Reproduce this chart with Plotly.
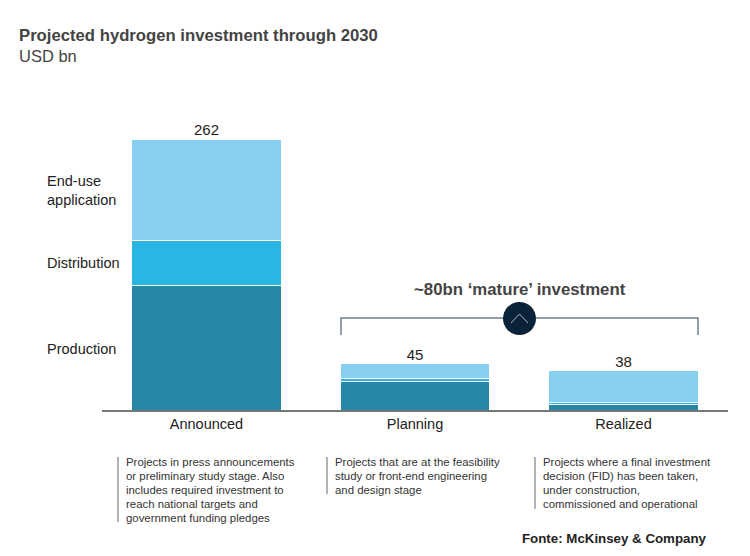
import plotly.graph_objects as go

# Projected hydrogen investment, USD bn
categories = ['Announced', 'Planning', 'Realized']
production = [120, 28, 5]
distribution = [44, 2, 2]
end_use = [98, 15, 31]
totals = [262, 45, 38]

descriptions = [
    ['Projects in press announcements', 'or preliminary study stage. Also',
     'includes required investment to', 'reach national targets and',
     'government funding pledges'],
    ['Projects that are at the feasibility', 'study or front-end engineering',
     'and design stage'],
    ['Projects where a final investment', 'decision (FID) has been taken,',
     'under construction,', 'commissioned and operational'],
]
desc_lines = [(118, 457, 522), (327, 457, 494), (535, 457, 509)]
segment_labels = [('End-use<br>application', 190), ('Distribution', 263), ('Production', 349)]

FONT = 'Liberation Sans'


# 참조 이미지 픽셀 좌표 -> paper 좌표 (플롯 영역 102~728, 100~410 기준)
def px(x):
    return (x - 102) / 626


def py(y):
    return (410 - y) / 310


fig = go.Figure()

for name, values, color in [('Production', production, '#2787A6'),
                            ('Distribution', distribution, '#29B6E3'),
                            ('End-use application', end_use, '#87D0EF')]:
    fig.add_trace(go.Bar(x=categories, y=values, name=name, width=0.715,
                         marker=dict(color=color, line=dict(color='white', width=1))))

# 합계 라벨
fig.add_trace(go.Scatter(x=categories, y=totals, mode='text',
                         text=[str(t) for t in totals], textposition='top center',
                         textfont=dict(size=15, color='#222222', family=FONT)))

shapes = [
    # 브래킷
    dict(type='path', xref='paper', yref='paper',
         path=f'M {px(341)} {py(335)} L {px(341)} {py(318)} L {px(698)} {py(318)} L {px(698)} {py(335)}',
         line=dict(color='#6F7F8A', width=1.5)),
    dict(type='circle', xref='paper', yref='paper', x0=px(503), x1=px(536), y0=py(302), y1=py(335),
         fillcolor='#0B2338', line=dict(width=0)),
    dict(type='path', xref='paper', yref='paper',
         path=f'M {px(511)} {py(323)} L {px(519.5)} {py(314)} L {px(528)} {py(323)}',
         line=dict(color='#A9B4BC', width=1)),
]
for x, y0, y1 in desc_lines:
    shapes.append(dict(type='line', xref='paper', yref='paper', x0=px(x), x1=px(x),
                       y0=py(y0), y1=py(y1), line=dict(color='#666666', width=1)))

# 주석은 내부 패딩 때문에 2px 왼쪽으로 당겨서 배치
annotations = [
    dict(text='<b>Projected hydrogen investment through 2030</b>', x=px(17), y=py(36),
         font=dict(size=16.7, color='#444444', family=FONT)),
    dict(text='USD bn', x=px(17), y=py(55.5), font=dict(size=16.5, color='#444444', family=FONT)),
    dict(text='<b>~80bn ‘mature’ investment</b>', x=px(412), y=py(289),
         font=dict(size=16.8, color='#444444', family=FONT)),
    dict(text='<b>Fonte: McKinsey &amp; Company</b>', x=px(520), y=py(538),
         font=dict(size=13.3, color='#222222', family=FONT)),
]
for label, y in segment_labels:
    annotations.append(dict(text=label, x=px(45), y=py(y),
                            font=dict(size=14.5, color='#222222', family=FONT)))
for lines, (x, y0, y1) in zip(descriptions, desc_lines):
    for i, line in enumerate(lines):
        annotations.append(dict(text=line, x=px(x + 6), y=py(462 + i * 14.1),
                                font=dict(size=11.4, color='#333333', family=FONT)))
for a in annotations:
    a.update(xref='paper', yref='paper', xanchor='left', yanchor='middle',
             showarrow=False, align='left')

# 페이지 기본 여백 8px 만큼 작게 잡음
fig.update_layout(
    width=734, height=540, autosize=False,
    barmode='stack', showlegend=False,
    margin=dict(l=94, r=14, t=92, b=138),
    plot_bgcolor='white', paper_bgcolor='white',
    shapes=shapes, annotations=annotations,
)
fig.update_xaxes(range=[-0.5012, 2.5012], showline=True, linecolor='#777777', linewidth=1.5,
                 ticks='', tickfont=dict(size=14.5, color='#222222', family=FONT), showgrid=False)
fig.update_yaxes(range=[0, 299.8], visible=False, showgrid=False, zeroline=False)

fig.write_html('out.html')
